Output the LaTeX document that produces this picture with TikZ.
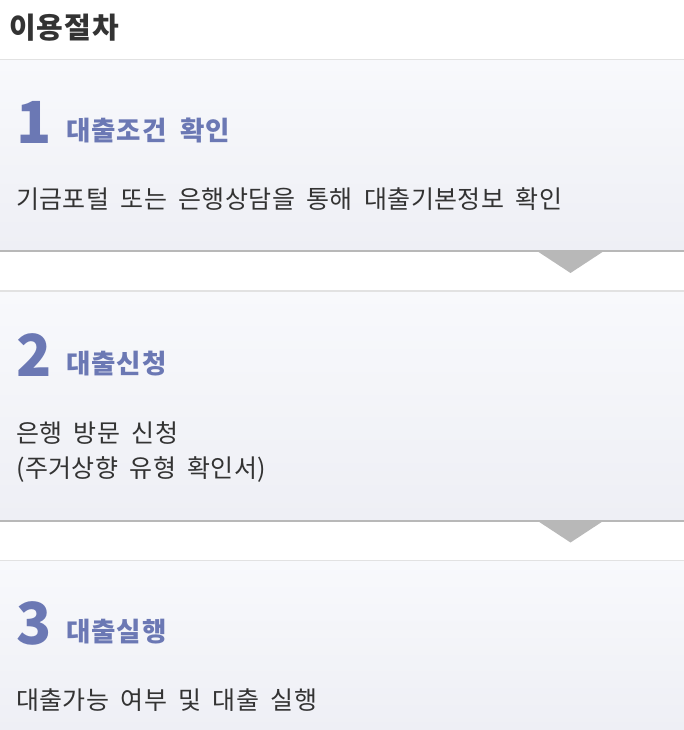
\documentclass[tikz,border=0pt]{standalone}
\usepackage{fontspec}
\setmainfont{Noto Sans CJK KR}[WordSpace=1.9]
\usetikzlibrary{positioning}
\definecolor{stepblue}{HTML}{6B78B4}
\definecolor{arrowgray}{HTML}{B8B8B8}
\definecolor{rulegray}{HTML}{E2E2E2}
\definecolor{boxtop}{HTML}{F8F9FC}
\definecolor{boxbot}{HTML}{EEEFF5}
\definecolor{textdark}{HTML}{333333}
\tikzset{
	stepnum/.style={anchor=base west, inner sep=0pt, text=stepblue, font=\fontsize{58}{58}\selectfont\bfseries},
	stephead/.style={anchor=base west, inner sep=0pt, text=stepblue, font=\fontsize{26.5}{26.5}\selectfont\bfseries\addfontfeature{LetterSpace=3.8}},
	stepbody/.style={anchor=base west, inner sep=0pt, text=textdark, align=left, font=\fontsize{25}{35}\selectfont\addfontfeature{LetterSpace=1.6}},
}

\begin{document}
\begin{tikzpicture}[x=1pt, y=-1pt]
		%%%%% START %%%%%
		\useasboundingbox (0, 0) rectangle (684, 730);
		
		\node[anchor=base west, inner sep=0pt, text=textdark, font=\fontsize{29}{29}\selectfont\bfseries\addfontfeature{LetterSpace=3.4}] (title) at (9, 39) {이용절차};
		
		% step 1
		\draw[rulegray, line width=2pt] (0, 60) -- (684, 60);
		\shade[top color=boxtop, bottom color=boxbot] (0, 61) rectangle (684, 250);
		\draw[arrowgray, line width=2pt] (0, 251) -- (684, 251);
		\fill[arrowgray] (537, 251) -- (604, 251) -- (570.5, 273) -- cycle;
		\node[stepnum] (num1) at (16, 144) {1};
		\node[stephead] (head1) at (66, 141) {대출조건 확인};
		\node[stepbody] (body1) at (16, 208) {기금포털 또는 은행상담을 통해 대출기본정보 확인};
		
		% step 2
		\draw[rulegray, line width=2pt] (0, 291) -- (684, 291);
		\shade[top color=boxtop, bottom color=boxbot] (0, 292) rectangle (684, 519);
		\draw[arrowgray, line width=2pt] (0, 520.5) -- (684, 520.5);
		\fill[arrowgray] (537, 520.5) -- (604, 520.5) -- (570.5, 542.5) -- cycle;
		\node[stepnum] (num2) at (16, 376) {2};
		\node[stephead] (head2) at (66, 373) {대출신청};
		\node[stepbody] (body2) at (16, 477) {은행 방문 신청\\(주거상향 유형 확인서)};
		
		% step 3
		\draw[rulegray, line width=2pt] (0, 560.5) -- (684, 560.5);
		\shade[top color=boxtop, bottom color=boxbot] (0, 561.5) rectangle (684, 730);
		\node[stepnum] (num3) at (16, 644) {3};
		\node[stephead] (head3) at (66, 641) {대출실행};
		\node[stepbody] (body3) at (16, 709) {대출가능 여부 및 대출 실행};
		
		%%%%% END %%%%%
	\end{tikzpicture}
\end{document}
